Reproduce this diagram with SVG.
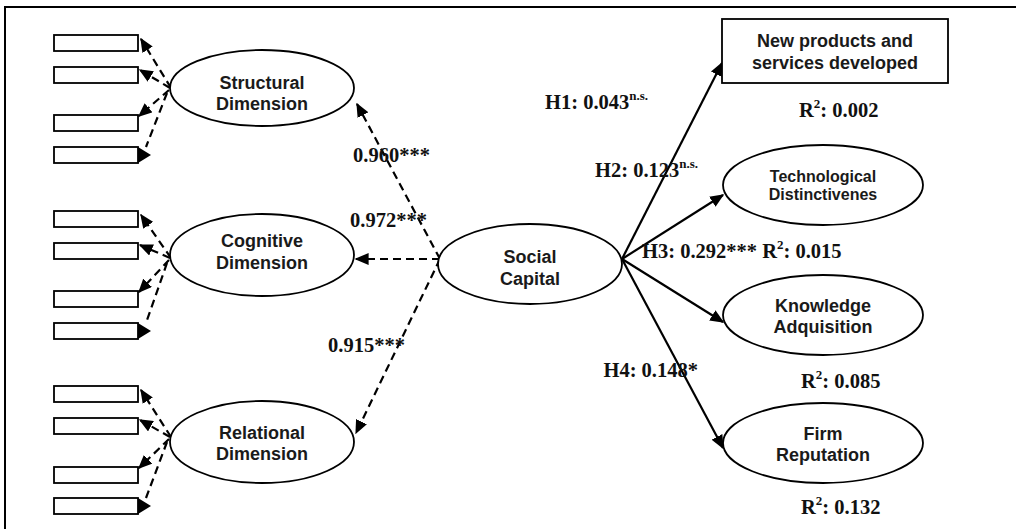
<svg xmlns="http://www.w3.org/2000/svg" width="1016" height="529" viewBox="0 0 1016 529">
<style>
.bg{fill:#fff}
.frame{stroke:#000;stroke-width:2;fill:none}
.ind{fill:#fff;stroke:#000;stroke-width:1.8}
.lat{fill:#fff;stroke:#000;stroke-width:1.8}
.nt{font-family:"Liberation Sans",Arial,sans-serif;font-weight:bold;font-size:18px;fill:#1a1a1a;text-anchor:middle}
.nts{font-size:16px}
.lbl{font-family:"Liberation Serif","Times New Roman",serif;font-weight:bold;font-size:20.5px;fill:#111}
.sup{font-size:13px}
.dash{stroke:#000;stroke-width:2.2;fill:none;stroke-dasharray:8 5}
.solid{stroke:#000;stroke-width:2.2;fill:none}
.head{fill:#000;stroke:none}
</style>
<defs>
<marker id="ah" viewBox="0 0 10 10" refX="9" refY="5" markerWidth="14" markerHeight="12" markerUnits="userSpaceOnUse" orient="auto" preserveAspectRatio="none">
<path d="M0,0 L10,5 L0,10 z" class="head"/>
</marker>
</defs>
<rect class="bg" x="0" y="0" width="1016" height="529"/>
<path class="frame" d="M5,529 V7 H1016"/>

<g id="connectors">
<path class="dash" d="M171,88 L141,39" marker-end="url(#ah)"/>
<path class="dash" d="M170,88 L140,70" marker-end="url(#ah)"/>
<path class="dash" d="M169,90 L139,116" marker-end="url(#ah)"/>
<path class="dash" d="M167,93 L146,147"/>
<polygon class="head" points="138,147 151,155 138,163"/>
<path class="dash" d="M171,258 L141,215" marker-end="url(#ah)"/>
<path class="dash" d="M170,258 L140,245" marker-end="url(#ah)"/>
<path class="dash" d="M169,260 L139,292" marker-end="url(#ah)"/>
<path class="dash" d="M167,263 L146,323"/>
<polygon class="head" points="138,323 151,331 138,339"/>
<path class="dash" d="M171,437 L141,390" marker-end="url(#ah)"/>
<path class="dash" d="M170,437 L140,420" marker-end="url(#ah)"/>
<path class="dash" d="M169,439 L139,468" marker-end="url(#ah)"/>
<path class="dash" d="M167,442 L146,498"/>
<polygon class="head" points="138,498 151,506 138,514"/>
<path class="dash" d="M440,259 L357,104" marker-end="url(#ah)"/>
<path class="dash" d="M440,259 L356,259" marker-end="url(#ah)"/>
<path class="dash" d="M440,259 L356,433" marker-end="url(#ah)"/>
<path class="solid" d="M622,259 L722,63" marker-end="url(#ah)"/>
<path class="solid" d="M622,259 L723,195" marker-end="url(#ah)"/>
<path class="solid" d="M622,259 L723,322" marker-end="url(#ah)"/>
<path class="solid" d="M622,259 L723,448" marker-end="url(#ah)"/>
</g>

<g id="structural-indicators">
<rect class="ind" x="54" y="35" width="84" height="16"/>
<rect class="ind" x="54" y="67" width="84" height="16"/>
<rect class="ind" x="54" y="115" width="84" height="16"/>
<rect class="ind" x="54" y="147" width="84" height="16"/>
</g>
<g id="cognitive-indicators">
<rect class="ind" x="54" y="211" width="84" height="16"/>
<rect class="ind" x="54" y="243" width="84" height="16"/>
<rect class="ind" x="54" y="291" width="84" height="16"/>
<rect class="ind" x="54" y="323" width="84" height="16"/>
</g>
<g id="relational-indicators">
<rect class="ind" x="54" y="386" width="84" height="16"/>
<rect class="ind" x="54" y="418" width="84" height="16"/>
<rect class="ind" x="54" y="467" width="84" height="16"/>
<rect class="ind" x="54" y="498" width="84" height="16"/>
</g>

<g id="structural">
<ellipse class="lat" cx="262" cy="88" rx="92" ry="38"/>
<text class="nt" x="262" y="89">Structural</text>
<text class="nt" x="262" y="110">Dimension</text>
</g>
<g id="cognitive">
<ellipse class="lat" cx="262" cy="255" rx="92" ry="41"/>
<text class="nt" x="262" y="247">Cognitive</text>
<text class="nt" x="262" y="269">Dimension</text>
</g>
<g id="relational">
<ellipse class="lat" cx="262" cy="442" rx="92" ry="41"/>
<text class="nt" x="262" y="439">Relational</text>
<text class="nt" x="262" y="460">Dimension</text>
</g>
<g id="social-capital">
<ellipse class="lat" cx="530" cy="264" rx="92" ry="40"/>
<text class="nt" x="530" y="263">Social</text>
<text class="nt" x="530" y="285">Capital</text>
</g>
<g id="new-products">
<rect class="lat" x="722" y="19" width="226" height="64"/>
<text class="nt" x="835" y="47">New products and</text>
<text class="nt" x="835" y="69">services developed</text>
</g>
<g id="technological">
<ellipse class="lat" cx="823" cy="185" rx="100" ry="40"/>
<text class="nt nts" x="823" y="182">Technological</text>
<text class="nt nts" x="823" y="200">Distinctivenes</text>
</g>
<g id="knowledge">
<ellipse class="lat" cx="823" cy="315" rx="100" ry="40"/>
<text class="nt" x="823" y="312">Knowledge</text>
<text class="nt" x="823" y="333">Adquisition</text>
</g>
<g id="reputation">
<ellipse class="lat" cx="823" cy="443" rx="100" ry="40"/>
<text class="nt" x="823" y="440">Firm</text>
<text class="nt" x="823" y="461">Reputation</text>
</g>

<g id="labels">
<text class="lbl" x="353" y="162">0.960***</text>
<text class="lbl" x="350" y="227">0.972***</text>
<text class="lbl" x="328" y="352">0.915***</text>
<text class="lbl" x="545" y="109">H1: 0.043<tspan class="sup" dy="-9">n.s.</tspan></text>
<text class="lbl" x="595" y="177">H2: 0.123<tspan class="sup" dy="-9">n.s.</tspan></text>
<text class="lbl" x="642" y="258">H3: 0.292*** R<tspan class="sup" dy="-9">2</tspan><tspan dy="9">: 0.015</tspan></text>
<text class="lbl" x="698" y="377" text-anchor="end">H4: 0.148*</text>
<text class="lbl" x="799" y="117">R<tspan class="sup" dy="-9">2</tspan><tspan dy="9">: 0.002</tspan></text>
<text class="lbl" x="801" y="388">R<tspan class="sup" dy="-9">2</tspan><tspan dy="9">: 0.085</tspan></text>
<text class="lbl" x="801" y="514">R<tspan class="sup" dy="-9">2</tspan><tspan dy="9">: 0.132</tspan></text>
</g>
</svg>
